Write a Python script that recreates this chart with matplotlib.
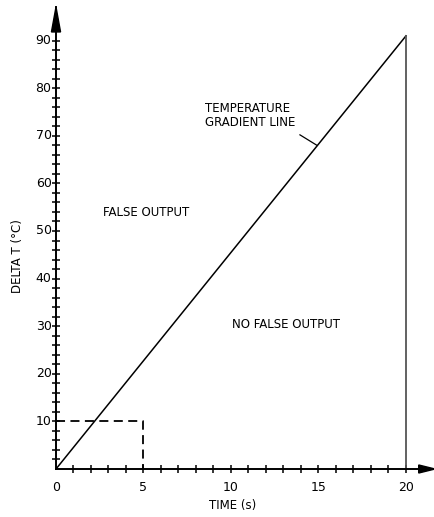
import matplotlib
matplotlib.use("Agg")
import matplotlib.pyplot as plt
from matplotlib.patches import Polygon

# Temperature gradient line and the 5 s / 10 degC reference box
gradient_time = [0, 20]
gradient_delta_t = [0, 91]
box_time = [0, 5, 5]
box_delta_t = [10, 10, 0]

x_tick_values = list(range(1, 21))
x_label_values = [0, 5, 10, 15, 20]
y_tick_values = list(range(2, 92, 2))
y_label_values = [10, 20, 30, 40, 50, 60, 70, 80, 90]

plt.rcParams["font.family"] = ["DejaVu Sans"]

fig = plt.figure(figsize=(4.35, 5.17), dpi=100)
ax = fig.add_axes([56 / 435, 48 / 517, 379 / 435, 462 / 517])
xmax = 379 / 17.5
ymax = 462 / 4.76
ax.set_xlim(0, xmax)
ax.set_ylim(0, ymax)

for side in ["top", "right"]:
    ax.spines[side].set_visible(False)
for side in ["left", "bottom"]:
    ax.spines[side].set_linewidth(1.4)
    ax.spines[side].set_color("black")

ax.set_xticks(x_tick_values)
ax.set_xticklabels([])
ax.set_yticks(y_tick_values)
ax.set_yticklabels([])
ax.tick_params(direction="inout", length=6, width=1.1, color="black")

for v in x_label_values:
    ax.text(v, -2.5, str(v), ha="center", va="top", fontsize=9)
for v in y_label_values:
    ax.text(-0.25, v, str(v), ha="right", va="center", fontsize=9)

# arrowheads on both axes
ax.add_patch(Polygon([(1.0, 0.0), (0.957, 0.0087), (0.957, -0.0087)], closed=True,
                     transform=ax.transAxes, color="black", clip_on=False))
ax.add_patch(Polygon([(0.0, 1.0), (-0.012, 0.946), (0.012, 0.946)], closed=True,
                     transform=ax.transAxes, color="black", clip_on=False))

ax.plot(gradient_time, gradient_delta_t, color="black", linewidth=1.1)
ax.plot([gradient_time[-1], gradient_time[-1]], [0, gradient_delta_t[-1]],
        color="#555555", linewidth=1.3)
ax.plot(box_time, box_delta_t, color="black", linewidth=1.3, linestyle=(0, (5, 3)))

# leader from the label to the gradient line
ax.plot([13.94, 14.91], [70.2, 68.0], color="black", linewidth=0.9)

ax.text(8.5, 74.3, "TEMPERATURE\nGRADIENT LINE", ha="left", va="center",
        fontsize=8.5, linespacing=1.1)
ax.text(2.7, 53.8, "FALSE OUTPUT", ha="left", va="center", fontsize=8.5)
ax.text(10.05, 30.3, "NO FALSE OUTPUT", ha="left", va="center", fontsize=8.5)

fig.text(233 / 435, 1 - 506 / 517, "TIME (s)", ha="center", va="center", fontsize=8.5)
fig.text(18 / 435, 1 - 256 / 517, "DELTA T (\u00b0C)", ha="center", va="center",
         rotation=90, fontsize=8.5)

fig.savefig("out.png", dpi=100)
